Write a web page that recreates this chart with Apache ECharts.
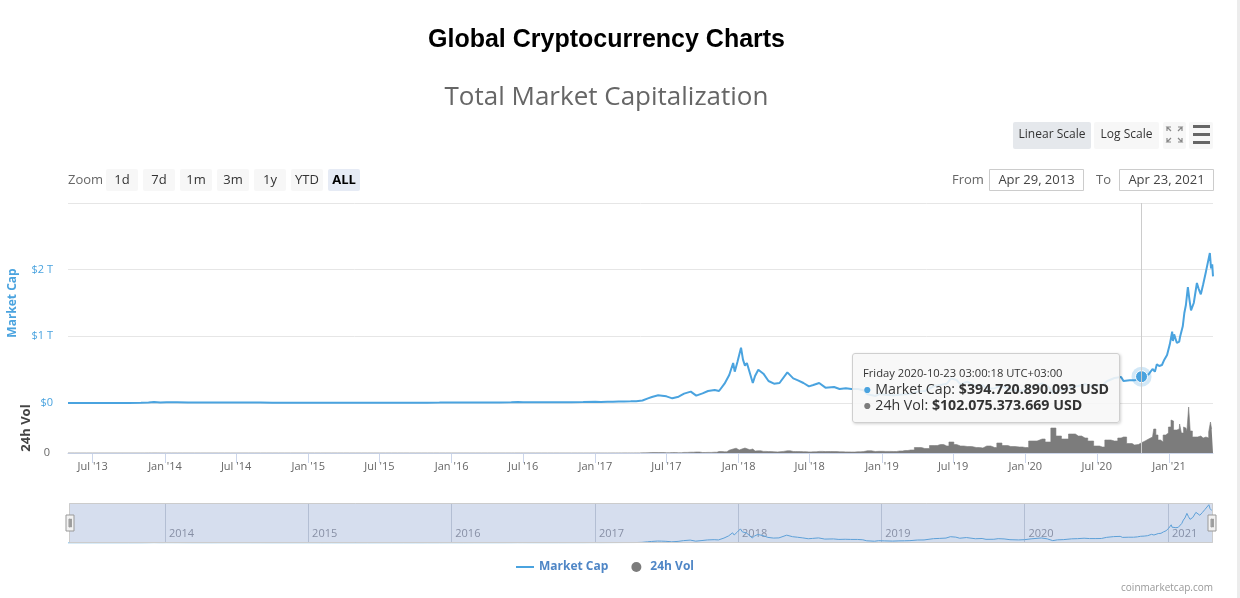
<!DOCTYPE html>
<html><head><meta charset="utf-8">
<script src="https://cdn.jsdelivr.net/npm/echarts@6/dist/echarts.min.js"></script>
<style>html,body{margin:0;padding:0;background:#fff;overflow:hidden}#c{width:1240px;height:598px}#sb{position:fixed;right:0;top:0;width:3px;height:598px;background:#ececec}</style>
</head><body><div id="c"></div><div id="sb"></div>
<script>
// ---- data (billions USD) ----
const dates = [
'2013-04-29','2013-06-01','2013-07-01','2013-08-01','2013-09-01','2013-10-01','2013-11-01','2013-11-20','2013-12-04','2013-12-20',
'2014-01-05','2014-02-01','2014-03-01','2014-04-01','2014-05-01','2014-06-01','2014-07-01','2014-08-01','2014-09-01','2014-10-01','2014-11-01','2014-12-01',
'2015-01-01','2015-02-01','2015-03-01','2015-04-01','2015-05-01','2015-06-01','2015-07-01','2015-08-01','2015-09-01','2015-10-01','2015-11-01','2015-12-01',
'2016-01-01','2016-02-01','2016-03-01','2016-04-01','2016-05-01','2016-06-01','2016-06-18','2016-07-01','2016-08-01','2016-09-01','2016-10-01','2016-11-01','2016-12-01',
'2017-01-01','2017-01-15','2017-02-01','2017-02-15','2017-03-01','2017-03-15','2017-04-01','2017-04-15','2017-05-01','2017-05-15','2017-05-25','2017-06-10','2017-06-20',
'2017-07-01','2017-07-16','2017-08-01','2017-08-15','2017-09-01','2017-09-15','2017-10-01','2017-10-15','2017-11-01','2017-11-12','2017-11-26','2017-12-08','2017-12-18','2017-12-22','2017-12-29',
'2018-01-07','2018-01-12','2018-01-17','2018-01-22','2018-02-06','2018-02-12','2018-02-20','2018-03-05','2018-03-18','2018-04-01','2018-04-06','2018-04-15','2018-05-05','2018-05-20','2018-06-01','2018-06-15','2018-06-29',
'2018-07-10','2018-07-25','2018-08-10','2018-08-15','2018-09-01','2018-09-15','2018-10-01','2018-10-15','2018-11-01','2018-11-15','2018-11-25','2018-12-15','2018-12-25',
'2019-01-10','2019-01-30','2019-02-15','2019-03-01','2019-03-15','2019-04-03','2019-04-20','2019-05-14','2019-05-30','2019-06-15','2019-06-26','2019-07-10','2019-07-20','2019-08-06','2019-08-29',
'2019-09-15','2019-09-25','2019-10-15','2019-10-26','2019-11-10','2019-11-25','2019-12-17',
'2020-01-01','2020-01-18','2020-02-13','2020-02-28','2020-03-13','2020-03-25','2020-04-10','2020-04-30','2020-05-15','2020-06-01','2020-06-15','2020-07-01','2020-07-15','2020-07-28',
'2020-08-15','2020-09-01','2020-09-07','2020-09-23','2020-10-05','2020-10-15','2020-10-23T00:00:18Z','2020-11-01','2020-11-10','2020-11-20','2020-11-26','2020-12-01','2020-12-07','2020-12-14','2020-12-20','2020-12-27',
'2021-01-03','2021-01-09','2021-01-11','2021-01-14','2021-01-21','2021-01-27','2021-01-29','2021-02-05','2021-02-09','2021-02-13','2021-02-18','2021-02-22','2021-02-26',
'2021-03-05','2021-03-13','2021-03-17','2021-03-23','2021-03-29','2021-04-05','2021-04-09','2021-04-15','2021-04-18','2021-04-21','2021-04-23'
];
const marketCap = [
1.6,1.3,1.0,1.2,1.6,1.8,2.6,8.0,15.0,8.5,
12.0,11.5,8.0,6.5,6.8,8.5,8.8,7.9,6.9,5.5,4.8,5.3,
4.6,3.6,3.9,3.5,3.6,3.5,4.4,4.5,3.7,3.8,5.5,6.2,
7.0,6.4,7.7,7.4,8.1,9.9,13.5,12.3,10.4,10.2,11.0,12.4,13.6,
17.7,15.0,18.2,19.5,22.0,24.0,25.0,27.0,38.0,70,90,115,110,
100,70,95,140,170,110,145,180,195,180,290,420,600,470,620,
830,650,560,600,300,410,500,440,330,290,260,300,460,370,340,300,250,
270,300,230,210,240,210,220,210,210,190,130,105,135,
125,112,125,130,138,175,180,255,270,290,370,345,280,320,250,
265,215,220,255,240,195,180,
195,245,295,245,140,185,200,245,255,280,260,260,265,330,
375,390,330,340,340,360,394.720890093,405,430,510,470,580,555,570,650,720,
880,1070,930,1030,900,920,990,1150,1350,1470,1740,1550,1390,
1500,1800,1720,1630,1780,1970,1950,2250,2020,2080,1900
];
const volume = [
0.02,0.01,0.01,0.01,0.01,0.02,0.05,0.4,0.5,0.2,
0.1,0.08,0.06,0.05,0.03,0.04,0.03,0.03,0.03,0.04,0.03,0.02,
0.03,0.03,0.03,0.02,0.02,0.02,0.04,0.03,0.02,0.03,0.08,0.05,
0.05,0.05,0.06,0.05,0.06,0.1,0.2,0.1,0.1,0.06,0.06,0.1,0.1,
0.5,0.3,0.3,0.4,0.6,0.8,0.7,0.9,1.5,3,5,4,4.5,
3,4,3,6,8,10,5,6,8,15,12,28,40,48,30,
40,55,50,32,40,20,22,16,14,12,11,16,22,15,14,13,11,
12,16,14,15,14,12,11,10,12,14,22,15,17,
16,15,20,25,30,55,45,75,85,70,110,85,70,65,55,
50,70,55,100,75,65,60,
55,120,140,110,250,170,140,190,170,150,120,70,60,130,
120,150,160,95,80,85,102.075373669,120,140,160,240,180,130,110,180,200,
260,330,320,230,230,240,290,200,260,250,220,460,220,
160,160,170,170,150,160,150,210,310,240,260
];
const capTickLabels = ['$0', '$1 T', '$2 T'];
const monthNames = ['Jan','Feb','Mar','Apr','May','Jun','Jul','Aug','Sep','Oct','Nov','Dec'];
const weekdays = ['Sunday','Monday','Tuesday','Wednesday','Thursday','Friday','Saturday'];
const zoomButtons = ['1d','7d','1m','3m','1y','YTD','ALL'];
const tooltipDate = '2020-10-23T00:00:18Z';

// ---- derived ----
const DAY = 86400000;
const tMin = Date.parse(dates[0]);
const tMax = Date.parse(dates[dates.length - 1]);
const capData = dates.map((d, i) => [Date.parse(d), marketCap[i] * 1e9]);
const volData = dates.map((d, i) => [Date.parse(d), volume[i] * 1e9]);
const dayCats = [];
for (let t = tMin; t <= tMax; t += DAY) dayCats.push(new Date(t).toISOString().slice(0, 10));
const tipIndex = dates.indexOf(tooltipDate);
const pad = n => String(n).padStart(2, '0');
const fmtNum = v => String(Math.round(v)).replace(/\B(?=(\d{3})+(?!\d))/g, '.');
const fmtInput = t => { const d = new Date(t); return monthNames[d.getUTCMonth()] + ' ' + pad(d.getUTCDate()) + ', ' + d.getUTCFullYear(); };
const isHalfYear = v => v.slice(8) === '01' && (v.slice(5, 7) === '01' || v.slice(5, 7) === '07');
const isYear = v => v.slice(5) === '01-01';

const BLUE = '#4aa3df', GRAY = '#7c7c7c', FONT = '"Open Sans", sans-serif';
const L = 68, R = 27;

const chart = echarts.init(document.getElementById('c'), null, { renderer: 'canvas' });

const graphic = [
  { type: 'text', x: 606.5, y: 40, style: { text: 'Global Cryptocurrency Charts', align: 'center', verticalAlign: 'middle', fill: '#000', font: 'bold 25px "Liberation Sans", Arial, sans-serif' } },
  { type: 'text', x: 606.5, y: 98, style: { text: 'Total Market Capitalization', align: 'center', verticalAlign: 'middle', fill: '#666', font: '26px ' + FONT } },
  { type: 'text', x: 68, y: 180, style: { text: 'Zoom', verticalAlign: 'middle', fill: '#666', font: '13px ' + FONT } },
  // scale buttons
  { type: 'rect', shape: { x: 1013, y: 122, width: 78, height: 27, r: 2 }, style: { fill: '#e5e8ec' } },
  { type: 'text', x: 1052, y: 135, style: { text: 'Linear Scale', align: 'center', verticalAlign: 'middle', fill: '#333', font: '12px ' + FONT } },
  { type: 'rect', shape: { x: 1094, y: 122, width: 65, height: 27, r: 2 }, style: { fill: '#f7f7f7' } },
  { type: 'text', x: 1126.5, y: 135, style: { text: 'Log Scale', align: 'center', verticalAlign: 'middle', fill: '#333', font: '12px ' + FONT } },
  { type: 'rect', shape: { x: 1163, y: 122, width: 23, height: 27, r: 2 }, style: { fill: '#f7f7f7' } },
  { type: 'polyline', shape: { points: [[1171, 131], [1167, 127], [1171, 127], [1167, 127], [1167, 131]] }, style: { stroke: '#888', lineWidth: 1.2, fill: null } },
  { type: 'polyline', shape: { points: [[1178, 131], [1182, 127], [1178, 127], [1182, 127], [1182, 131]] }, style: { stroke: '#888', lineWidth: 1.2, fill: null } },
  { type: 'polyline', shape: { points: [[1171, 138], [1167, 142], [1171, 142], [1167, 142], [1167, 138]] }, style: { stroke: '#888', lineWidth: 1.2, fill: null } },
  { type: 'polyline', shape: { points: [[1178, 138], [1182, 142], [1178, 142], [1182, 142], [1182, 138]] }, style: { stroke: '#888', lineWidth: 1.2, fill: null } },
  { type: 'rect', shape: { x: 1189, y: 122, width: 24, height: 27, r: 2 }, style: { fill: '#f7f7f7' } },
  { type: 'rect', shape: { x: 1193, y: 125, width: 17, height: 3 }, style: { fill: '#666' } },
  { type: 'rect', shape: { x: 1193, y: 133, width: 17, height: 3 }, style: { fill: '#666' } },
  { type: 'rect', shape: { x: 1193, y: 141, width: 17, height: 3 }, style: { fill: '#666' } },
  // From / To
  { type: 'text', x: 952, y: 180, style: { text: 'From', verticalAlign: 'middle', fill: '#666', font: '13px ' + FONT } },
  { type: 'rect', shape: { x: 989.5, y: 169.5, width: 94, height: 21 }, style: { fill: '#fff', stroke: '#cccccc', lineWidth: 1 } },
  { type: 'text', x: 1036.5, y: 180, style: { text: fmtInput(tMin), align: 'center', verticalAlign: 'middle', fill: '#444', font: '13px ' + FONT } },
  { type: 'text', x: 1096, y: 180, style: { text: 'To', verticalAlign: 'middle', fill: '#666', font: '13px ' + FONT } },
  { type: 'rect', shape: { x: 1119.5, y: 169.5, width: 94, height: 21 }, style: { fill: '#fff', stroke: '#cccccc', lineWidth: 1 } },
  { type: 'text', x: 1166.5, y: 180, style: { text: fmtInput(tMax), align: 'center', verticalAlign: 'middle', fill: '#444', font: '13px ' + FONT } },
  // credits
  { type: 'text', x: 1213, y: 588, style: { text: 'coinmarketcap.com', align: 'right', verticalAlign: 'middle', fill: '#999', font: '10px ' + FONT } }
];
zoomButtons.forEach((b, i) => {
  const x = 106 + i * 37;
  graphic.push({ type: 'rect', shape: { x: x, y: 169, width: 32, height: 22, r: 2 }, style: { fill: b === 'ALL' ? '#e6ebf5' : '#f7f7f7' } });
  graphic.push({ type: 'text', x: x + 16, y: 180, style: { text: b, align: 'center', verticalAlign: 'middle', fill: b === 'ALL' ? '#000' : '#333', font: (b === 'ALL' ? 'bold ' : '') + '13px ' + FONT } });
});

const gridBase = { containLabel: false, outerBoundsMode: 'none' };
const option = {
  animation: false,
  textStyle: { fontFamily: FONT },
  graphic: graphic,
  grid: [
    Object.assign({ left: L, right: R, top: 203, height: 200 }, gridBase),
    Object.assign({ left: L, right: R, top: 403, height: 50 }, gridBase),
    Object.assign({ left: L, right: 28, top: 503, height: 40 }, gridBase)
  ],
  legend: {
    left: 511, top: 556, itemWidth: 18, itemHeight: 10, itemGap: 23,
    textStyle: { color: '#4f86c6', fontWeight: 'bold', fontSize: 12, fontFamily: FONT },
    data: [{ name: 'Market Cap', icon: 'path://M0,0H18V2H0Z' }, { name: '24h Vol', icon: 'circle' }]
  },
  tooltip: {
    trigger: 'axis', alwaysShowContent: true, transitionDuration: 0, showDelay: 0,
    backgroundColor: 'rgba(247,247,247,0.88)', borderColor: '#cfcfcf', borderWidth: 1,
    padding: [10, 10, 9, 10],
    extraCssText: 'border-radius:3px;box-shadow:1px 1px 3px rgba(0,0,0,0.18);',
    position: function () { return [852, 353]; },
    axisPointer: { type: 'line', lineStyle: { color: '#cccccc', width: 1, type: 'solid' }, label: { show: false } },
    formatter: function (params) {
      const p = params.find(q => q.seriesIndex === 0) || params[0];
      const i = p.dataIndex;
      const t = new Date(Date.parse(dates[i]) + 3 * 3600000);
      const head = weekdays[t.getUTCDay()] + ' ' + t.getUTCFullYear() + '-' + pad(t.getUTCMonth() + 1) + '-' + pad(t.getUTCDate()) + ' ' +
        pad(t.getUTCHours()) + ':' + pad(t.getUTCMinutes()) + ':' + pad(t.getUTCSeconds()) + ' UTC+03:00';
      return '<div style="font-family:' + FONT.replace(/"/g, "'") + ';color:#333">' +
        '<div style="font-size:11.2px;line-height:17px;margin-bottom:0px">' + head + '</div>' +
        '<div style="font-size:14.2px;line-height:16px"><span style="color:' + BLUE + '">\u25CF</span> Market Cap: <b>$' + fmtNum(marketCap[i] * 1e9) + ' USD</b></div>' +
        '<div style="font-size:14.2px;line-height:16px"><span style="color:' + GRAY + '">\u25CF</span> 24h Vol: <b>$' + fmtNum(volume[i] * 1e9) + ' USD</b></div></div>';
    }
  },
  axisPointer: { link: [{ xAxisIndex: [0, 1] }] },
  xAxis: [
    { type: 'time', gridIndex: 0, min: tMin, max: tMax, position: 'bottom', axisLine: { show: false }, axisTick: { show: false }, axisLabel: { show: false }, splitLine: { show: false } },
    { type: 'time', gridIndex: 1, min: tMin, max: tMax, position: 'top', axisLine: { show: false }, axisTick: { show: false }, axisLabel: { show: false }, splitLine: { show: false } },
    {
      type: 'category', gridIndex: 1, data: dayCats, boundaryGap: false, position: 'bottom',
      axisPointer: { show: false, triggerTooltip: false },
      axisLine: { lineStyle: { color: '#ccd6eb' } },
      axisTick: { length: 10, interval: (i, v) => isHalfYear(v), lineStyle: { color: '#ccd6eb' } },
      axisLabel: { interval: (i, v) => isHalfYear(v), margin: 8, color: '#666', fontSize: 11, fontFamily: FONT,
        formatter: v => monthNames[+v.slice(5, 7) - 1] + " '" + v.slice(2, 4) },
      splitLine: { show: false }
    },
    { type: 'time', gridIndex: 2, min: tMin, max: tMax, position: 'top', axisLine: { show: false }, axisTick: { show: false }, axisLabel: { show: false }, splitLine: { show: false }, axisPointer: { show: false } },
    {
      type: 'category', gridIndex: 2, data: dayCats, boundaryGap: false, position: 'bottom',
      axisPointer: { show: false, triggerTooltip: false },
      axisLine: { show: false }, axisTick: { show: false },
      axisLabel: { inside: true, interval: (i, v) => isYear(v), margin: 4, align: 'left', padding: [0, 0, 0, 4], color: 'rgba(110,110,120,0.75)', fontSize: 11, fontFamily: FONT, formatter: v => v.slice(0, 4) },
      splitLine: { show: true, interval: (i, v) => isYear(v), lineStyle: { color: 'rgba(170,176,190,0.55)', width: 1 } }
    }
  ],
  yAxis: [
    {
      type: 'value', gridIndex: 0, min: 0, max: 3e12, interval: 1e12,
      name: 'Market Cap', nameLocation: 'middle', nameGap: 49, nameRotate: 90,
      nameTextStyle: { color: BLUE, fontWeight: 'bold', fontSize: 12, fontFamily: FONT },
      axisLine: { show: false }, axisTick: { show: false },
      axisLabel: { showMaxLabel: false, color: BLUE, fontSize: 11, margin: 15, fontFamily: FONT, formatter: v => capTickLabels[Math.round(v / 1e12)] || '' },
      splitLine: { lineStyle: { color: '#e6e6e6' } }
    },
    {
      type: 'value', gridIndex: 1, min: 0, max: 500e9, interval: 500e9,
      name: '24h Vol', nameLocation: 'middle', nameGap: 30, nameRotate: 90,
      nameTextStyle: { color: '#444', fontWeight: 'bold', fontSize: 13, fontFamily: FONT },
      axisLine: { show: false }, axisTick: { show: false },
      axisLabel: { showMaxLabel: false, color: '#666', fontSize: 11, margin: 18, fontFamily: FONT, formatter: v => v === 0 ? '0' : '' },
      splitLine: { lineStyle: { color: '#e6e6e6' } }
    },
    { type: 'value', gridIndex: 2, min: 0, max: 2.35e12, show: false, splitLine: { show: false } }
  ],
  dataZoom: [{
    type: 'slider', xAxisIndex: [0, 1], filterMode: 'none', start: 0, end: 100, zoomLock: true,
    left: L, right: 28, top: 503, height: 40,
    showDataShadow: false, showDetail: false, brushSelect: false, moveHandleSize: 0,
    backgroundColor: 'rgba(0,0,0,0)', fillerColor: 'rgba(102,133,194,0.27)', borderColor: '#cccccc', borderRadius: 0,
    handleIcon: 'path://M0,0H8V16H0Z M3,4V12H3.8V4Z M4.6,4V12H5.4V4Z',
    handleSize: '40%',
    handleStyle: { color: '#f2f2f2', borderColor: '#999999', borderWidth: 1 }
  }],
  series: [
    {
      name: 'Market Cap', type: 'line', xAxisIndex: 0, yAxisIndex: 0, data: capData, clip: false,
      symbol: 'none', lineStyle: { color: BLUE, width: 2 }, itemStyle: { color: BLUE },
      emphasis: { disabled: true }, z: 3,
      markPoint: {
        silent: true, label: { show: false },
        data: [
          { coord: capData[tipIndex], symbol: 'circle', symbolSize: 20, itemStyle: { color: 'rgba(74,163,223,0.25)' } },
          { coord: capData[tipIndex], symbol: 'circle', symbolSize: 12, itemStyle: { color: BLUE, borderColor: '#ffffff', borderWidth: 1 } }
        ]
      }
    },
    {
      name: '24h Vol', type: 'line', step: 'middle', xAxisIndex: 1, yAxisIndex: 1, data: volData,
      symbol: 'none', lineStyle: { color: GRAY, width: 0.6 }, itemStyle: { color: GRAY },
      areaStyle: { color: GRAY, opacity: 1 }, emphasis: { disabled: true }, z: 2
    },
    {
      name: 'Navigator', type: 'line', xAxisIndex: 3, yAxisIndex: 2, data: capData, silent: true,
      symbol: 'none', lineStyle: { color: '#5aaae0', width: 1 }, areaStyle: { color: 'rgba(74,163,223,0.05)' }, tooltip: { show: false }
    }
  ]
};
chart.setOption(option);
function tip() { chart.dispatchAction({ type: 'showTip', seriesIndex: 0, dataIndex: tipIndex }); }
tip();
setTimeout(tip, 30);
</script></body></html>
